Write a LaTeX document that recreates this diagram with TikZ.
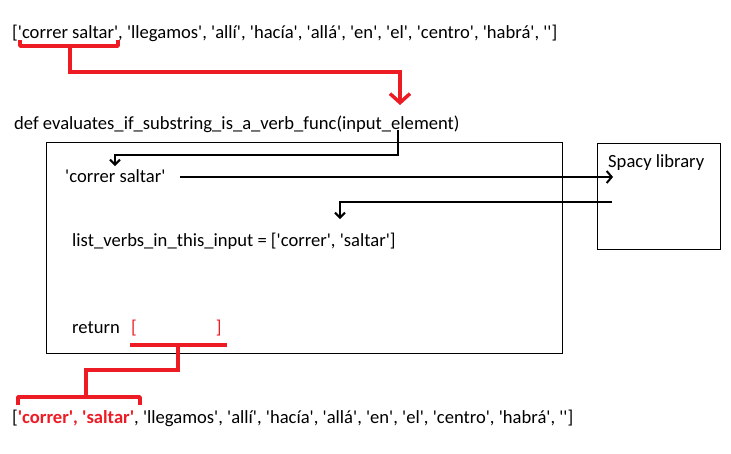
\documentclass[tikz,border=0pt]{standalone}
\usepackage{fontspec}
\setmainfont{Carlito}[Ligatures=TeXOff]
\usetikzlibrary{arrows.meta}
\definecolor{rd}{RGB}{237,28,36}
\begin{document}
\begin{tikzpicture}[x=1pt,y=-1pt,
  txt/.style={inner sep=0pt,anchor=west,font=\fontsize{18.6}{20}\selectfont},
  redl/.style={draw=rd,line width=3.5pt},
  blk/.style={draw=black,line width=2pt},
  box/.style={draw=black,line width=0.8pt}]
\useasboundingbox (0,0) rectangle (731,453);
\node[txt] (top) at (12,33) {['correr saltar', 'llegamos', 'allí', 'hacía', 'allá', 'en', 'el', 'centro', 'habrá', '']};
\node[txt] (def) at (14,124) {def evaluates\_if\_substring\_is\_a\_verb\_func(input\_element)};
\node[box,minimum width=516,minimum height=211,anchor=north west] (fbox) at (46,142) {};
\node[box,minimum width=123,minimum height=106,anchor=north west] (sp) at (597,143) {};
\node[txt] (spt) at (608,163) {Spacy library};
\node[txt] (cs) at (65,176) {'correr saltar'};
\node[txt] (lv) at (72,241) {list\_verbs\_in\_this\_input = ['correr', 'saltar']};
\node[txt] (ret) at (72,328) {return};
\node[txt,text=rd] (rb) at (131,328) {[\hspace{79pt}]};
\node[txt] (bot) at (12,418) {[{\color{rd}\bfseries 'correr', 'saltar'}, 'llegamos', 'allí', 'hacía', 'allá', 'en', 'el', 'centro', 'habrá', '']};
\coordinate (a1) at (20,40); \coordinate (a2) at (118,40);
\coordinate (r1) at (70,46); \coordinate (r2) at (400,105);
\coordinate (b1) at (398,130);
\coordinate (b2) at (115,166);
\coordinate (c1) at (180,177); \coordinate (c2) at (613,177);
\coordinate (d1) at (612,202); \coordinate (d2) at (340,219);
\coordinate (e1) at (130,345); \coordinate (e2) at (227,345);
\coordinate (f1) at (18,405); \coordinate (f2) at (140,405);
\draw[redl,line join=round] (a1) -- (20,46) -- (118,46) -- (a2);
\draw[redl,-{Straight Barb[length=9pt,width=20pt,line width=3.5pt]}] (r1) -- (70,72) -- (400,72) -- (r2);
\draw[blk,-{Straight Barb[length=5pt,width=10pt]}] (b1) -- (398,155) -- (115,155) -- (b2);
\draw[blk,-{Straight Barb[length=5pt,width=12pt]}] (c1) -- (c2);
\draw[blk,-{Straight Barb[length=5pt,width=10pt]}] (d1) -- (340,202) -- (d2);
\draw[redl] (e1) -- (e2);
\draw[redl] (178,345) -- (178,370) -- (86,370) -- (86,397);
\draw[redl,line join=round] (f1) -- (18,397) -- (140,397) -- (f2);
\end{tikzpicture}
\end{document}
